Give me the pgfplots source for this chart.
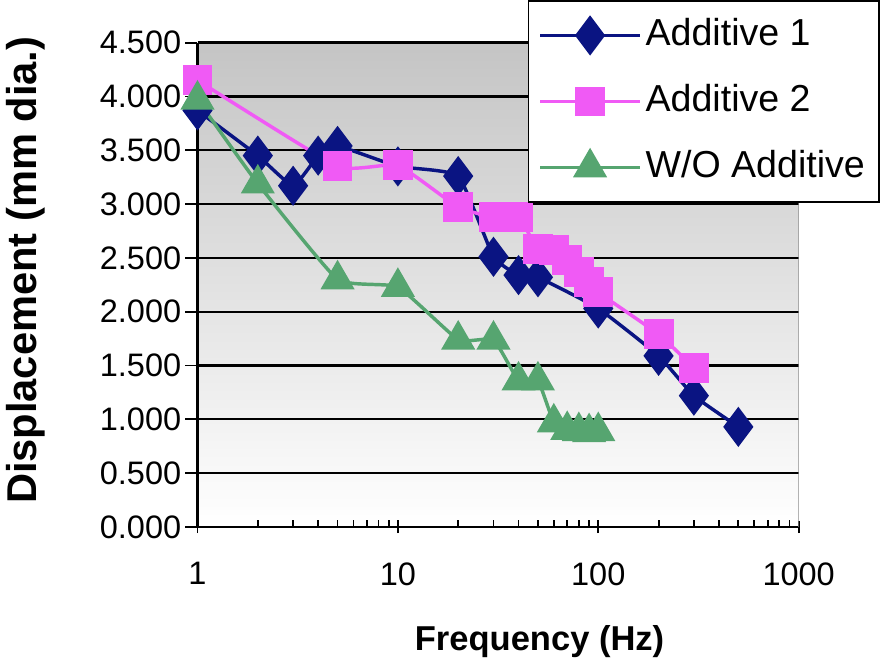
\documentclass[border=0pt]{standalone}
\usepackage{fontspec}
\setmainfont{Liberation Sans}
\usepackage{pgfplots}
\pgfplotsset{compat=1.18}
\definecolor{addone}{RGB}{10,20,130}
\definecolor{addtwo}{RGB}{240,90,245}
\definecolor{woadd}{RGB}{86,165,112}

\begin{document}
\begin{tikzpicture}
\begin{axis}[
  scale only axis,
  width=296pt, height=238.5pt,
  xmode=log, xmin=1, xmax=1000,
  ymin=0, ymax=4.5,
  ytick={0,0.5,...,4.5},
  log ticks with fixed point,
  /pgf/number format/assume math mode=true,
  /pgf/number format/1000 sep={},
  yticklabel style={xshift=-4.5pt, /pgf/number format/fixed,
    /pgf/number format/fixed zerofill, /pgf/number format/precision=3},
  axis x line*=bottom, axis y line*=left,
  axis line style={black, line width=1.1pt, -},
  tick align=inside,
  major tick length=6pt, minor tick length=3.5pt,
  tick style={black, line width=0.9pt},
  major x tick style={yshift=-3pt},
  major y tick style={xshift=-6pt},
  ymajorgrids, grid style={black, line width=1.1pt},
  tick label style={font=\fontsize{16}{18}\selectfont},
  xticklabel style={yshift=-14pt},
  xlabel={\textbf{Frequency (Hz)}},
  ylabel={\textbf{Displacement (mm dia.)}},
  xlabel style={font=\fontsize{17}{20}\selectfont, at={(axis description cs:0.569,-0.237)}, anchor=center},
  ylabel style={font=\fontsize{20.5}{22}\selectfont, at={(axis description cs:-0.285,0.53)}, anchor=center},
  axis background/.style={top color=black!23, bottom color=white},
  legend style={at={(rel axis cs:0.549,1.088)}, anchor=north west,
    draw=black, line width=0.9pt, fill=white,
    font=\fontsize{18.5}{20}\selectfont,
    row sep=8.5pt, inner xsep=5pt, inner ysep=5pt,
    nodes={inner xsep=2pt, inner ysep=3pt, text height=14pt, text depth=4pt}},
  legend cell align=left,
  legend image code/.code={
    \draw[#1] (0pt,0pt) -- (49pt,0pt);
    \draw[#1, only marks] plot coordinates {(24.5pt,0pt)};
  },
]
\addplot[addone, line width=1.7pt, smooth, tension=0.25, mark=diamond*, mark size=8.5pt]
  coordinates{(1,3.87)(2,3.45)(3,3.17)(4,3.45)(5,3.54)(10,3.35)(20,3.26)
              (30,2.51)(40,2.34)(50,2.32)(100,2.03)(200,1.59)(300,1.22)(500,0.93)};
\addlegendentry{Additive 1}
\addplot[addtwo, line width=1.7pt, smooth, tension=0.25, mark=square*, mark size=6.5pt]
  coordinates{(1,4.15)(5,3.35)(10,3.36)(20,2.97)(30,2.88)(40,2.88)(50,2.58)
              (60,2.57)(70,2.48)(80,2.37)(90,2.28)(100,2.18)(200,1.79)(300,1.48)};
\addlegendentry{Additive 2}
\addplot[woadd, line width=1.7pt, smooth, tension=0.25, mark=triangle*, mark size=8pt]
  coordinates{(1,3.97)(2,3.19)(5,2.30)(10,2.23)(20,1.74)(30,1.74)(40,1.36)(50,1.36)
              (60,0.97)(70,0.90)(80,0.89)(90,0.88)(100,0.89)};
\addlegendentry{W/O Additive}
\draw[black!45, line width=1pt] (rel axis cs:1,0) -- (rel axis cs:1,1);
\end{axis}
\end{tikzpicture}
\end{document}
